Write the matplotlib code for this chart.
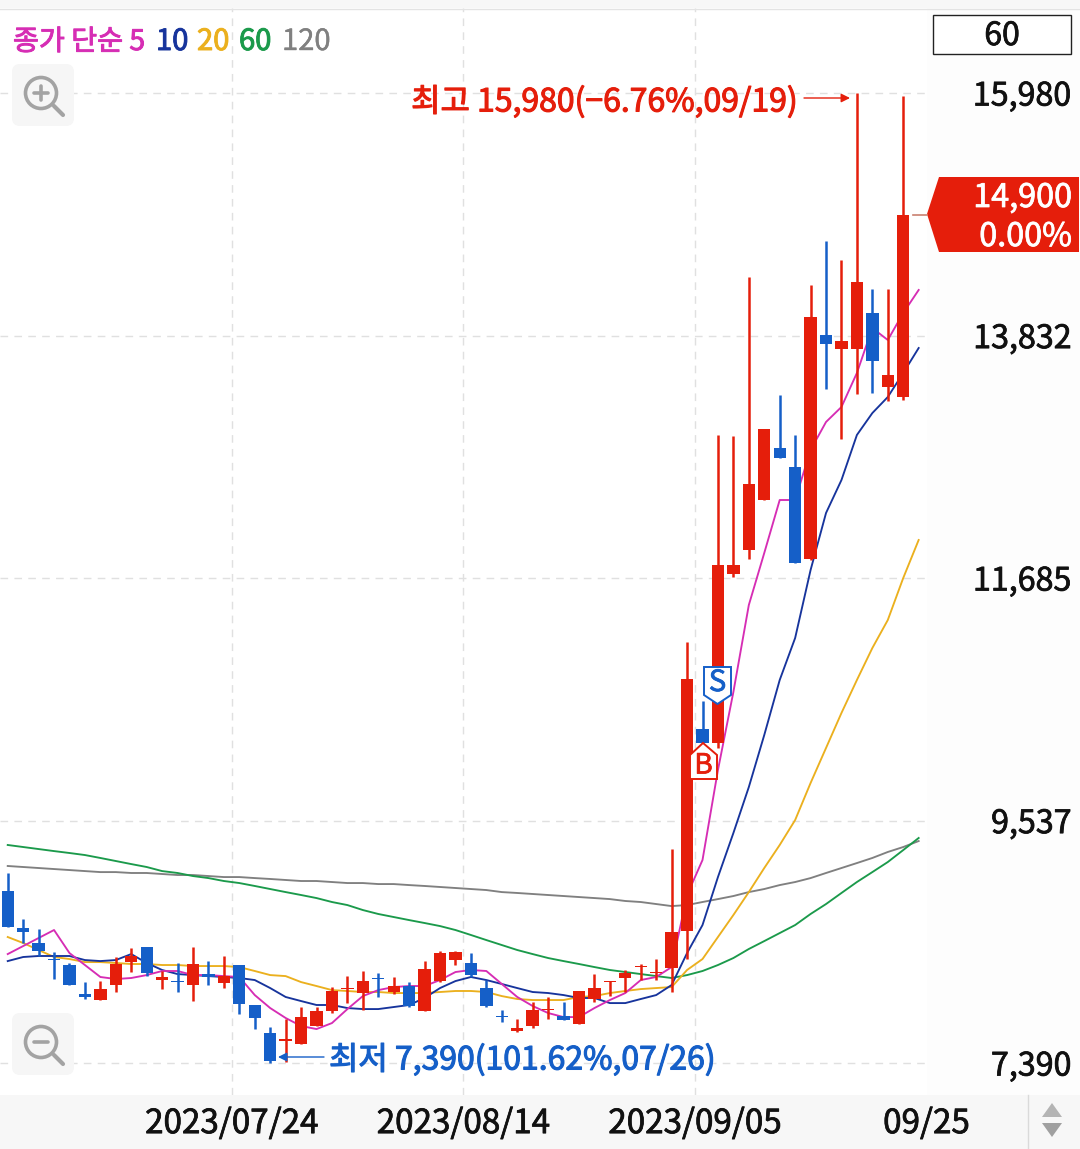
import matplotlib
matplotlib.use('Agg')
import matplotlib.pyplot as plt
import matplotlib.patheffects as pe
from matplotlib.patches import Circle, FancyBboxPatch, Polygon, Rectangle

plt.rcParams['font.family'] = ['Noto Sans CJK KR', 'DejaVu Sans']

# candles, oldest first
opens = [8913, 8586, 8453, 8311, 8258, 8001, 7948, 8081, 8284, 8417, 8125, 8116, 8081, 8178, 8098,
         8258, 7904, 7656, 7585, 7558, 7718, 7851, 8045, 8010, 8143, 8019, 8072, 7851, 8116, 8302,
         8276, 8054, 7806, 7673, 7718, 7859, 7806, 7735, 7957, 8107, 8143, 8240, 8187, 8231, 8559,
         10348, 10224, 11721, 11933, 12376, 12836, 12668, 11853, 13837, 13713, 13713, 14032, 13377, 13288]
closes = [8594, 8550, 8382, 8302, 8081, 7975, 8045, 8267, 8338, 8187, 8152, 8107, 8267, 8152, 8160,
          7912, 7789, 7408, 7603, 7797, 7851, 8028, 8054, 8116, 8134, 8072, 7895, 8222, 8364, 8373,
          8169, 7895, 7797, 7700, 7859, 7868, 7771, 8028, 8054, 8116, 8187, 8249, 8196, 8550, 10791,
          10224, 11800, 11800, 12518, 13005, 12748, 11818, 13997, 13757, 13784, 14307, 13607, 13483, 14900]
highs = [9073, 8665, 8577, 8373, 8276, 8107, 8116, 8329, 8408, 8417, 8205, 8276, 8417, 8293, 8338,
         8258, 7904, 7709, 7780, 7886, 7886, 8063, 8160, 8205, 8187, 8152, 8107, 8293, 8382, 8382,
         8364, 8125, 7859, 7780, 7930, 7975, 7930, 8028, 8178, 8116, 8214, 8267, 8311, 9285, 11118,
         10596, 12952, 12943, 14351, 13005, 13306, 12952, 14280, 14670, 14501, 15980, 14245, 14245, 15954]
lows = [8594, 8453, 8338, 8134, 8081, 7957, 7948, 8019, 8196, 8160, 8045, 8019, 7939, 8081, 8054,
        7824, 7691, 7390, 7399, 7558, 7718, 7833, 7921, 7859, 7975, 8001, 7886, 7851, 8107, 8258,
        8152, 7886, 7753, 7665, 7700, 7780, 7771, 7735, 7930, 7983, 8019, 8125, 8125, 8019, 8311,
        10224, 10180, 11694, 11853, 12376, 12748, 11818, 11845, 13359, 12916, 13315, 13324, 13253, 13262]

# moving averages
ma5 = [8355, 8426, 8497, 8568, 8364, 8258, 8152, 8134, 8143, 8169, 8205, 8205, 8169, 8169, 8160,
       8152, 7992, 7877, 7789, 7718, 7691, 7744, 7868, 7983, 8036, 8063, 8072, 8072, 8125, 8196,
       8214, 8205, 8090, 7975, 7895, 7833, 7797, 7797, 7877, 7948, 8010, 8125, 8152, 8240, 8878,
       9188, 9985, 10676, 11446, 11907, 12376, 12376, 12819, 13067, 13200, 13501, 13899, 13793, 14032, 14236]
ma10 = [8293, 8329, 8338, 8338, 8338, 8302, 8293, 8302, 8355, 8276, 8214, 8178, 8169, 8160, 8152,
        8143, 8125, 8054, 7975, 7939, 7904, 7904, 7877, 7868, 7868, 7886, 7904, 7966, 8054, 8116,
        8152, 8125, 8090, 8054, 8019, 8010, 7992, 7966, 7966, 7921, 7921, 7957, 7992, 8081, 8364,
        8612, 9037, 9427, 9834, 10295, 10782, 11154, 11756, 12261, 12553, 12952, 13146, 13288, 13501, 13722]
ma20 = [8506, 8453, 8391, 8329, 8311, 8284, 8284, 8276, 8267, 8267, 8258, 8258, 8249, 8249, 8249,
        8240, 8205, 8169, 8160, 8107, 8072, 8036, 8028, 8019, 8019, 8010, 8010, 8010, 8019, 8028,
        8028, 8019, 7983, 7957, 7948, 7948, 7948, 7975, 7983, 8010, 8028, 8045, 8054, 8063, 8214,
        8311, 8506, 8701, 8904, 9117, 9321, 9542, 9870, 10180, 10490, 10782, 11065, 11313, 11685, 12022]
ma60 = [9321, 9303, 9285, 9267, 9250, 9232, 9206, 9179, 9152, 9126, 9090, 9073, 9046, 9028, 9002,
        8984, 8958, 8931, 8904, 8878, 8851, 8816, 8789, 8745, 8710, 8683, 8656, 8630, 8603, 8568,
        8524, 8479, 8435, 8391, 8355, 8320, 8293, 8267, 8240, 8214, 8196, 8178, 8160, 8143, 8169,
        8205, 8258, 8320, 8400, 8470, 8541, 8612, 8710, 8798, 8896, 8993, 9081, 9170, 9276, 9383]
ma120 = [9135, 9126, 9117, 9108, 9099, 9090, 9081, 9081, 9073, 9073, 9064, 9055, 9055, 9046, 9037,
         9037, 9028, 9020, 9011, 9002, 9002, 8993, 8984, 8984, 8975, 8975, 8966, 8958, 8949, 8940,
         8931, 8922, 8904, 8896, 8887, 8878, 8869, 8860, 8851, 8842, 8825, 8816, 8798, 8780, 8789,
         8816, 8842, 8869, 8904, 8931, 8966, 8993, 9028, 9073, 9117, 9161, 9206, 9259, 9303, 9356]

price_ticks = [7390, 9537, 11685, 13832, 15980]
date_ticks = [14.5, 29.5, 44.5, 59.5]
date_labels = ['2023/07/24', '2023/08/14', '2023/09/05', '09/25']

RED = '#E51E0B'
BLUE = '#155FC8'
MAGENTA = '#D62DB4'
NAVY = '#17349C'
ORANGE = '#EBB01E'
GREEN = '#1B9A4B'
GRAY = '#808080'
INK = '#111111'
BAND = '#F7F7F7'
ICON = '#A3A3A3'

W, H = 1080, 1149
fig = plt.figure(figsize=(W / 100, H / 100), dpi=100, facecolor='#FDFDFD')


def pixel_axes(z):
    a = fig.add_axes([0, 0, 1, 1], zorder=z)
    a.set_xlim(0, W)
    a.set_ylim(H, 0)
    a.axis('off')
    return a


def heavy(t, w=0.55):
    # fonts here stop at regular, thicken the outline a bit
    t.set_path_effects([pe.withStroke(linewidth=w, foreground=t.get_color())])
    return t


bg = pixel_axes(0)
top = pixel_axes(2)

bg.add_patch(Rectangle((0, 1095), W, 54, fc=BAND, ec='none'))
bg.plot([1027.5, 1027.5], [1095, H], color='#DADADA', lw=1)
bg.add_patch(Polygon([(1052, 1103), (1042, 1117), (1062, 1117)], fc='#B4B4B4', ec='none'))
bg.add_patch(Polygon([(1042, 1123), (1062, 1123), (1052, 1137)], fc='#A0A0A0', ec='none'))
top.add_patch(Rectangle((0, 0), W, 8, fc=BAND, ec='none'))
top.plot([0, W], [8.5, 8.5], color='#E3E3E3', lw=1)

# price chart
ax = fig.add_axes([0, 54 / H, 927 / W, 1087 / H], zorder=1, facecolor='white')
for s in ax.spines.values():
    s.set_visible(False)
ax.set_xlim(-0.5, 59.54)
ax.set_ylim(7107, 16733)

ax.grid(True, color='#E0E0E0', lw=1.0, linestyle=(0, (5.5, 4.5)), zorder=0)
ax.set_axisbelow(True)

ax.yaxis.tick_right()
ax.set_yticks(price_ticks)
ax.set_yticklabels(['{:,}'.format(p) for p in price_ticks], fontsize=23.2, color=INK)
ax.tick_params(axis='y', length=0, pad=104)
for t in ax.get_yticklabels():
    t.set_ha('right')
    heavy(t)

ax.set_xticks(date_ticks)
ax.set_xticklabels(date_labels, fontsize=23.9, color=INK)
ax.tick_params(axis='x', length=0, pad=8)
for t in ax.get_xticklabels():
    heavy(t)
ax.get_xgridlines()[-1].set_visible(False)

for vals, col in [(ma120, GRAY), (ma60, GREEN), (ma20, ORANGE), (ma10, NAVY), (ma5, MAGENTA)]:
    ax.plot(range(len(vals)), vals, color=col, lw=1.35, zorder=2)

for i in range(len(opens)):
    col = RED if closes[i] >= opens[i] else BLUE
    ax.vlines(i, lows[i], highs[i], color=col, lw=1.8, zorder=3)
    ax.bar(i, abs(closes[i] - opens[i]), bottom=min(opens[i], closes[i]), width=0.8, color=col, zorder=3)

# legend
legend = [('종가 단순 5', 13, MAGENTA, 20.3), ('10', 156, NAVY, 21), ('20', 197, ORANGE, 21),
          ('60', 239, GREEN, 21), ('120', 282, GRAY, 21)]
for txt, x, col, size in legend:
    t = top.text(x, 42, txt, color=col, fontsize=size, ha='left', va='center')
    heavy(t, 0.7 if col != GRAY else 0.3)

# period box
top.add_patch(Rectangle((933, 15), 138, 39, fc='white', ec='#222222', lw=1))
heavy(top.text(1002, 36, '60', fontsize=23, color=INK, ha='center', va='center'))

# last price tag
top.plot([913, 927], [214.5, 214.5], color='#C9806F', lw=1.2)
top.add_patch(Polygon([(927, 214), (939, 177), (1079, 177), (1079, 252), (939, 252)], fc=RED, ec='none'))
heavy(top.text(1072, 198, '14,900', color='white', fontsize=23.3, ha='right', va='center'))
heavy(top.text(1072, 237, '0.00%', color='white', fontsize=23.3, ha='right', va='center'))

# high / low notes
heavy(top.text(798, 102, '최고 15,980(−6.76%,09/19)', color=RED, fontsize=23, ha='right', va='center'), 0.8)
top.annotate('', xy=(850, 98), xytext=(804, 98),
             arrowprops=dict(arrowstyle='-|>', color=RED, lw=1, mutation_scale=13, shrinkA=0, shrinkB=0))
heavy(top.text(329, 1060, '최저 7,390(101.62%,07/26)', color=BLUE, fontsize=23, ha='left', va='center'), 0.8)
top.annotate('', xy=(278, 1057), xytext=(324, 1057),
             arrowprops=dict(arrowstyle='-|>', color=BLUE, lw=1, mutation_scale=13, shrinkA=0, shrinkB=0))

# buy / sell markers
top.add_patch(Polygon([(703, 743), (717, 755), (717, 779), (690, 779), (690, 755)], fc='white', ec=RED, lw=1.4))
heavy(top.text(703.5, 765.5, 'B', color=RED, fontsize=20, ha='center', va='center'))
top.add_patch(Polygon([(704, 667), (731, 667), (731, 695), (717.5, 704), (704, 695)], fc='white', ec=BLUE, lw=1.4))
heavy(top.text(717.5, 683, 'S', color=BLUE, fontsize=21, ha='center', va='center'))

# zoom buttons
for y0, plus in [(64, True), (1013, False)]:
    top.add_patch(FancyBboxPatch((18, y0 + 6), 50, 50, boxstyle='round,pad=6,rounding_size=8', fc='#F6F6F6', ec='none'))
    cy = y0 + 29
    top.add_patch(Circle((41, cy), 15.5, fc='none', ec=ICON, lw=2.6))
    top.plot([54, 63], [cy + 13, cy + 22], color=ICON, lw=3, solid_capstyle='round')
    top.plot([34, 48], [cy, cy], color=ICON, lw=2.6, solid_capstyle='round')
    if plus:
        top.plot([41, 41], [cy - 7, cy + 7], color=ICON, lw=2.6, solid_capstyle='round')

fig.savefig('out.png', dpi=100, facecolor=fig.get_facecolor())
